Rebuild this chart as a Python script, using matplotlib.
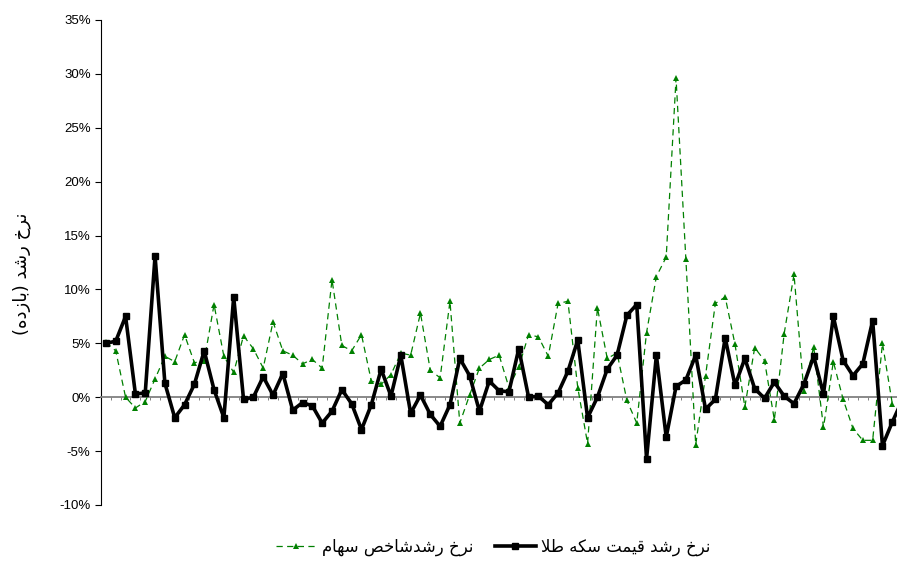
import matplotlib
matplotlib.use("Agg")
import matplotlib.pyplot as plt
import numpy as np

# growth rate of gold coin price (black) and stock index (green), in %
gold_growth = [5.0, 5.2, 7.5, 0.3, 0.4, 13.1, 1.3, -1.9, -0.7, 1.2,
               4.3, 0.7, -1.9, 9.3, -0.2, 0.0, 1.9, 0.2, 2.2, -1.2,
               -0.5, -0.8, -2.4, -1.3, 0.7, -0.6, -3.0, -0.7, 2.6, 0.1,
               3.9, -1.5, 0.2, -1.6, -2.7, -0.7, 3.6, 2.0, -1.3, 1.5,
               0.6, 0.5, 4.5, 0.0, 0.1, -0.7, 0.4, 2.4, 5.3, -1.9,
               0.0, 2.6, 3.9, 7.6, 8.6, -5.7, 3.9, -3.7, 1.0, 1.6,
               3.9, -1.1, -0.2, 5.5, 1.1, 3.6, 0.8, -0.1, 1.4, 0.1,
               -0.6, 1.2, 3.8, 0.3, 7.5, 3.4, 2.0, 3.1, 7.1, -4.5,
               -2.3, -0.3]
stock_growth = [5.1, 4.3, 0.0, -1.0, -0.4, 1.7, 3.8, 3.3, 5.8, 3.2,
                3.4, 8.6, 3.8, 2.3, 5.7, 4.5, 2.7, 7.0, 4.3, 3.9,
                3.1, 3.5, 2.7, 10.9, 4.8, 4.3, 5.8, 1.5, 1.2, 2.1,
                4.1, 3.9, 7.8, 2.5, 1.8, 8.9, -2.4, 0.2, 2.7, 3.5,
                3.9, 0.9, 2.8, 5.8, 5.6, 3.8, 8.7, 8.9, 0.9, -4.3,
                8.3, 3.6, 4.1, -0.3, -2.4, 6.0, 11.2, 13.0, 29.6, 12.8,
                -4.4, 2.0, 8.7, 9.3, 4.9, -0.9, 4.6, 3.4, -2.1, 5.9,
                11.4, 0.6, 4.7, -2.8, 3.3, -0.2, -2.9, -4.0, -4.0, 5.0,
                -0.6]
y_ticks = [-10, -5, 0, 5, 10, 15, 20, 25, 30, 35]

gold_label = "نرخ رشد قیمت سکه طلا"
stock_label = "نرخ رشدشاخص سهام"
y_label = "نرخ رشد (بازده)"

# matplotlib has no arabic shaping, so pick presentation forms by hand
# (isolated, final, initial, medial)
FORMS = {
    "ا": ("\uFE8D", "\uFE8E", None, None),
    "ب": ("\uFE8F", "\uFE90", "\uFE91", "\uFE92"),
    "ت": ("\uFE95", "\uFE96", "\uFE97", "\uFE98"),
    "خ": ("\uFEA5", "\uFEA6", "\uFEA7", "\uFEA8"),
    "د": ("\uFEA9", "\uFEAA", None, None),
    "ر": ("\uFEAD", "\uFEAE", None, None),
    "ز": ("\uFEAF", "\uFEB0", None, None),
    "س": ("\uFEB1", "\uFEB2", "\uFEB3", "\uFEB4"),
    "ش": ("\uFEB5", "\uFEB6", "\uFEB7", "\uFEB8"),
    "ص": ("\uFEB9", "\uFEBA", "\uFEBB", "\uFEBC"),
    "ط": ("\uFEC1", "\uFEC2", "\uFEC3", "\uFEC4"),
    "ق": ("\uFED5", "\uFED6", "\uFED7", "\uFED8"),
    "ک": ("\uFED9", "\uFEDA", "\uFEDB", "\uFEDC"),
    "ل": ("\uFEDD", "\uFEDE", "\uFEDF", "\uFEE0"),
    "م": ("\uFEE1", "\uFEE2", "\uFEE3", "\uFEE4"),
    "ن": ("\uFEE5", "\uFEE6", "\uFEE7", "\uFEE8"),
    "ه": ("\uFEE9", "\uFEEA", "\uFEEB", "\uFEEC"),
    "ی": ("\uFBFC", "\uFBFD", "\uFEF3", "\uFEF4"),
    "لا": ("\uFEFB", "\uFEFC", None, None),
}


def shape(text):
    # split into units, merging lam + alef
    units = []
    i = 0
    while i < len(text):
        if text[i:i + 2] == "لا":
            units.append("لا")
            i += 2
        else:
            units.append(text[i])
            i += 1
    out = []
    for k, u in enumerate(units):
        if u not in FORMS:
            out.append({"(": ")", ")": "("}.get(u, u))
            continue
        prev = units[k - 1] if k > 0 else None
        nxt = units[k + 1] if k + 1 < len(units) else None
        join_prev = prev in FORMS and FORMS[prev][2] is not None
        join_next = nxt in FORMS and FORMS[u][2] is not None
        iso, fin, ini, med = FORMS[u]
        if join_prev and join_next:
            out.append(med)
        elif join_prev:
            out.append(fin)
        elif join_next:
            out.append(ini)
        else:
            out.append(iso)
    return "".join(reversed(out))


plt.rcParams["font.family"] = ["Liberation Sans", "DejaVu Sans"]

fig = plt.figure(figsize=(8.97, 5.65), dpi=100)
ax = fig.add_axes([101 / 897, 1 - 505 / 565, 1 - 101 / 897, 485 / 565])

x_gold = np.arange(len(gold_growth))
x_stock = np.arange(len(stock_growth))

stock_line, = ax.plot(x_stock, stock_growth, color="#008000", lw=0.9,
                      dashes=(5, 3.5), marker="^", markersize=4.2,
                      markeredgewidth=0, markerfacecolor="#008000", zorder=3)
gold_line, = ax.plot(x_gold, gold_growth, color="black", lw=2.6,
                     marker="s", markersize=4.2, markerfacecolor="black",
                     zorder=4)

ax.set_yticks(y_ticks)
ax.set_yticklabels([f"{t}%" for t in y_ticks], fontsize=9.5)
ax.tick_params(axis="y", direction="out", length=4.5, width=0.8, pad=3)

# category axis sits on the zero line
ax.spines["bottom"].set_position(("data", 0))
ax.spines["bottom"].set_color("#808080")
ax.spines["bottom"].set_linewidth(1.3)
ax.spines["top"].set_visible(False)
ax.spines["right"].set_visible(False)
ax.spines["left"].set_linewidth(0.8)
ax.set_xticks(np.arange(-0.5, len(gold_growth), 1))
ax.set_xticklabels([])
ax.tick_params(axis="x", direction="out", length=2.5, width=0.7,
               color="#808080")

# limits after the ticks, so the ticks do not widen the view
ax.set_xlim(-0.5, (897 - 105.9) / 9.83)
ax.set_ylim(-10, 35)

fig.text(22 / 897, 1 - 274 / 565, shape(y_label), rotation=90,
         ha="center", va="center", fontsize=13, family="DejaVu Sans")

leg = fig.legend([stock_line, gold_line],
                 [shape(stock_label), shape(gold_label)],
                 loc="center", bbox_to_anchor=(493 / 897, 1 - 547 / 565),
                 ncol=2, frameon=False, handlelength=2.5, columnspacing=1.3,
                 handletextpad=0.3, prop={"family": "DejaVu Sans", "size": 11.9})

fig.savefig("out.png", dpi=100)
